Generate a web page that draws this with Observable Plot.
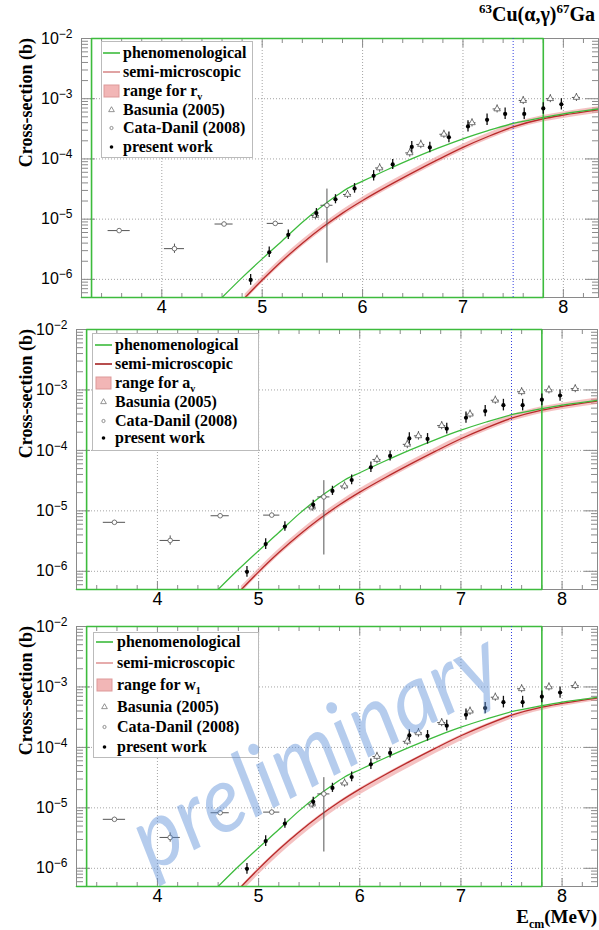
<!DOCTYPE html>
<html><head><meta charset="utf-8">
<script src="https://cdn.jsdelivr.net/npm/d3@7"></script>
<script src="https://cdn.jsdelivr.net/npm/@observablehq/plot@0.6"></script>
<style>
body{margin:0;background:#fff}
#wrap{position:relative;width:599px;height:930px;overflow:hidden;background:#fff}
.panel{position:absolute;left:0}
#title{position:absolute;right:4px;top:3px;font:bold 20px "Liberation Serif",serif;color:#000;white-space:nowrap}
#title sup{font-size:13px;vertical-align:0;position:relative;top:-8px}
#xlab{position:absolute;right:2px;top:907px;font:bold 19px/19px "Liberation Serif",serif;color:#000;white-space:nowrap}
#xlab sub{font-size:12px;vertical-align:0;position:relative;top:5px}
</style></head>
<body><div id="wrap">
<div id="title"><sup>63</sup>Cu(α,γ)<sup>67</sup>Ga</div>
<div id="xlab">E<sub>cm</sub>(MeV)</div>
</div>
<script>
// ---------- data ----------
const xTickValues = [4, 5, 6, 7, 8];
const xTickLabels = ["4", "5", "6", "7", "8"];
const yTickValues = [1e-6, 1e-5, 1e-4, 1e-3, 1e-2];
const yTickExp = ["−6", "−5", "−4", "−3", "−2"];

// phenomenological curve (green)
const phenE  = [4.6, 4.8, 5.0, 5.2, 5.4, 5.6, 5.75, 5.85, 6.0, 6.25, 6.5, 6.75, 7.0, 7.25, 7.5, 7.8, 8.0, 8.35];
const phenXS = [5.01e-7, 1.07e-6, 2.19e-6, 4.37e-6, 8.91e-6, 1.66e-5, 2.51e-5, 3.24e-5, 4.27e-5, 6.68e-5, 1.02e-4, 1.51e-4, 2.16e-4, 2.95e-4, 3.89e-4, 4.90e-4, 5.62e-4, 6.76e-4];
// envelope drawn by the same green graph outside the curve
const phenEnvE  = [3.2, 7.8, 7.8, 3.3, 3.3];
const phenEnvXS = [5.0e-7, 5.0e-7, 1.0e-2, 1.0e-2, 5.0e-7];

// semi-microscopic curve (red) and its band
const semiE  = [4.83, 5.0, 5.2, 5.4, 5.6, 5.8, 6.0, 6.25, 6.5, 6.75, 7.0, 7.25, 7.5, 7.8, 8.0, 8.35];
const semiXS = [5.01e-7, 9.77e-7, 2.04e-6, 3.98e-6, 7.31e-6, 1.26e-5, 2.04e-5, 3.53e-5, 5.92e-5, 9.72e-5, 1.557e-4, 2.358e-4, 3.41e-4, 4.65e-4, 5.34e-4, 6.53e-4];
const bandLoA = [4.4e-7, 8.6e-7, 1.80e-6, 3.50e-6, 6.43e-6, 1.11e-5, 1.80e-5, 3.11e-5, 5.21e-5, 8.55e-5, 1.37e-4, 2.08e-4, 3.00e-4, 4.09e-4, 4.70e-4, 5.75e-4];
const bandHiA = [5.66e-7, 1.10e-6, 2.31e-6, 4.50e-6, 8.26e-6, 1.42e-5, 2.31e-5, 3.99e-5, 6.69e-5, 1.10e-4, 1.76e-4, 2.66e-4, 3.85e-4, 5.25e-4, 6.03e-4, 7.38e-4];
const bandLoB = [4.0e-7, 7.8e-7, 1.63e-6, 3.18e-6, 5.85e-6, 1.01e-5, 1.63e-5, 2.82e-5, 4.74e-5, 7.9e-5, 1.28e-4, 1.98e-4, 2.93e-4, 4.09e-4, 4.75e-4, 5.94e-4];
const bandHiB = [5.16e-7, 1.01e-6, 2.10e-6, 4.10e-6, 7.53e-6, 1.30e-5, 2.10e-5, 3.64e-5, 6.10e-5, 1.00e-4, 1.60e-4, 2.43e-4, 3.51e-4, 4.79e-4, 5.50e-4, 6.73e-4];

// present work
const presentE  = [4.885, 5.07, 5.26, 5.54, 5.73, 5.92, 6.11, 6.30, 6.49, 6.67, 6.86, 7.05, 7.24, 7.42, 7.61, 7.80, 7.98];
const presentXS = [9.8e-7, 2.82e-6, 5.5e-6, 1.26e-5, 2.14e-5, 3.24e-5, 5.25e-5, 8.1e-5, 1.58e-4, 1.55e-4, 2.29e-4, 3.47e-4, 4.47e-4, 5.6e-4, 5.6e-4, 6.9e-4, 8.1e-4];
const presentLo = [8.0e-7, 2.3e-6, 4.6e-6, 1.06e-5, 1.80e-5, 2.70e-5, 4.30e-5, 6.7e-5, 1.28e-4, 1.27e-4, 1.86e-4, 2.80e-4, 3.60e-4, 4.50e-4, 4.50e-4, 5.5e-4, 6.5e-4];
const presentHi = [1.2e-6, 3.45e-6, 6.6e-6, 1.50e-5, 2.55e-5, 3.90e-5, 6.4e-5, 9.8e-5, 1.95e-4, 1.90e-4, 2.80e-4, 4.30e-4, 5.55e-4, 7.0e-4, 7.0e-4, 8.6e-4, 1.0e-3];

// Basunia (2005)
const basE  = [5.53, 5.85, 6.17, 6.47, 6.58, 6.81, 7.09, 7.34, 7.60, 7.87, 8.13];
const basXS = [1.15e-5, 2.57e-5, 7.08e-5, 1.26e-4, 1.74e-4, 2.57e-4, 3.98e-4, 6.76e-4, 9.33e-4, 1.0e-3, 1.05e-3];
const basLo = [9.8e-6, 2.2e-5, 6.0e-5, 1.07e-4, 1.48e-4, 2.2e-4, 3.4e-4, 5.8e-4, 8.0e-4, 8.6e-4, 9.0e-4];
const basHi = [1.35e-5, 3.0e-5, 8.3e-5, 1.48e-4, 2.05e-4, 3.0e-4, 4.65e-4, 7.9e-4, 1.09e-3, 1.17e-3, 1.22e-3];
const basDE = [0.04, 0.04, 0.04, 0.04, 0.04, 0.04, 0.04, 0.04, 0.04, 0.04, 0.04];

// Cata-Danil (2008)
const cataE  = [3.575, 4.126, 4.62, 5.13, 5.645];
const cataXS = [6.46e-6, 3.24e-6, 8.3e-6, 8.5e-6, 1.70e-5];
const cataLo = [6.0e-6, 2.7e-6, 7.7e-6, 7.9e-6, 1.86e-6];
const cataHi = [6.95e-6, 3.85e-6, 8.9e-6, 9.2e-6, 3.16e-5];
const cataDE = [0.11, 0.10, 0.09, 0.08, 0.06];

const thresholdE = [7.5];
const legendNames = ["phenomenological", "semi-microscopic", "range for ", "Basunia (2005)", "Cata-Danil (2008)", "present work"];
const rangeVars = [["r", "v"], ["a", "v"], ["w", "1"]];

// ---------- tables ----------
const phen = phenE.map((E, i) => ({E, xs: phenXS[i]}));
const phenEnv = phenEnvE.map((E, i) => ({E, xs: phenEnvXS[i]}));
const semi = semiE.map((E, i) => ({E, xs: semiXS[i]}));
const bandA = semiE.map((E, i) => ({E, lo: bandLoA[i], hi: bandHiA[i]}));
const bandB = semiE.map((E, i) => ({E, lo: bandLoB[i], hi: bandHiB[i]}));
const present = presentE.map((E, i) => ({E, xs: presentXS[i], lo: presentLo[i], hi: presentHi[i]}));
const bas = basE.map((E, i) => ({E, xs: basXS[i], lo: basLo[i], hi: basHi[i], e1: E - basDE[i], e2: E + basDE[i]}));
const cata = cataE.map((E, i) => ({E, xs: cataXS[i], lo: cataLo[i], hi: cataHi[i], e1: E - cataDE[i], e2: E + cataDE[i]}));

// ---------- layout ----------
const GREEN = "#3dbb3d", RED = "#b82a2a", PINK = "#ee9a9a", GRID = "#9a9a9a", FRAME = "#8a8a8a";
const panels = [
  {top: 0, height: 318, mt: 38, mb: 21, ml: 81, mr: 1, band: bandA, semiLegend: "#d98c8c",
   legend: {x0: 101, y0: 41, x1: 252, y1: 157, rows: [53, 72, 91, 110, 128, 147], sx0: 103, sx1: 120, tx: 123}},
  {top: 318, height: 294, mt: 11, mb: 23, ml: 76, mr: 2, band: bandA, semiLegend: "#a52222",
   legend: {x0: 92, y0: 333, x1: 258, y1: 450, rows: [345, 364, 383, 402, 421, 438], sx0: 95, sx1: 112, tx: 115}},
  {top: 612, height: 318, mt: 14, mb: 44, ml: 76, mr: 2, band: bandB, semiLegend: "#e09898", watermark: true,
   legend: {x0: 93, y0: 632, x1: 258, y1: 757, rows: [642, 663, 685, 707, 727, 747], sx0: 96, sx1: 113, tx: 117}}
];

const xMinor = d3.range(17, 42).map(k => k / 5).filter(v => v > 3.2 && v < 8.35 && Math.abs(v - Math.round(v)) > 1e-6);
const yMinor = [];
for (let e = -7; e <= -3; e++) for (let m = 2; m <= 9; m++) { const v = m * Math.pow(10, e); if (v > 5e-7 && v < 1e-2) yMinor.push(v); }

const wrap = document.getElementById("wrap");
const SERIF = "'Liberation Serif', 'Times New Roman', serif";

panels.forEach((p, pi) => {
  const tickStyle = {stroke: FRAME, tickFormat: () => "", label: null};
  const svg = Plot.plot({
    width: 599, height: p.height,
    marginTop: p.mt, marginBottom: p.mb, marginLeft: p.ml, marginRight: p.mr,
    style: {background: "transparent", overflow: "visible", fontFamily: "'Liberation Sans', Arial, sans-serif"},
    x: {domain: [3.2, 8.35], label: null},
    y: {type: "log", domain: [5e-7, 1e-2], label: null},
    marks: [
      Plot.gridX(xTickValues, {stroke: GRID, strokeOpacity: 0.9, strokeDasharray: "1,2"}),
      Plot.gridY(yTickValues.slice(0, 4), {stroke: GRID, strokeOpacity: 0.9, strokeDasharray: "1,2"}),
      Plot.frame({stroke: FRAME}),
      // inner ticks
      Plot.axisX(xTickValues, {...tickStyle, anchor: "bottom", tickSize: -8}),
      Plot.axisX(xMinor, {...tickStyle, anchor: "bottom", tickSize: -4}),
      Plot.axisX(xTickValues, {...tickStyle, anchor: "top", tickSize: -8}),
      Plot.axisX(xMinor, {...tickStyle, anchor: "top", tickSize: -4}),
      Plot.axisY(yTickValues, {...tickStyle, anchor: "left", tickSize: -14}),
      Plot.axisY(yMinor, {...tickStyle, anchor: "left", tickSize: -7}),
      Plot.axisY(yTickValues, {...tickStyle, anchor: "right", tickSize: -14}),
      Plot.axisY(yMinor, {...tickStyle, anchor: "right", tickSize: -7}),
      // labels
      Plot.axisX(xTickValues, {anchor: "bottom", tickSize: 0, tickPadding: 3, fontSize: 18, label: null,
        tickFormat: d => xTickLabels[xTickValues.indexOf(d)]}),
      Plot.axisY(yTickValues, {anchor: "left", tickSize: 0, tickPadding: 9, fontSize: 16, label: null,
        tickFormat: d => yTickExp[yTickValues.indexOf(d)]}),
      // curves
      Plot.areaY(p.band, {x: "E", y1: "lo", y2: "hi", fill: PINK, fillOpacity: 0.6, curve: "monotone-x", clip: true}),
      Plot.line(semi, {x: "E", y: "xs", stroke: RED, strokeWidth: 1.3, curve: "monotone-x", clip: true}),
      Plot.line(phen, {x: "E", y: "xs", stroke: GREEN, strokeWidth: 1.3, curve: "monotone-x", clip: true}),
      Plot.line(phenEnv, {x: "E", y: "xs", stroke: GREEN, strokeWidth: 1.6}),
      Plot.ruleX(thresholdE, {stroke: "#3340e0", strokeWidth: 1, strokeDasharray: "1,2"}),
      // data: Cata-Danil
      Plot.ruleY(cata, {y: "xs", x1: "e1", x2: "e2", stroke: "#555", strokeWidth: 1}),
      Plot.ruleX(cata, {x: "E", y1: "lo", y2: "hi", stroke: "#555", strokeWidth: 1}),
      Plot.dot(cata, {x: "E", y: "xs", r: 2.3, stroke: "#555", fill: "white", strokeWidth: 0.8}),
      // Basunia
      Plot.ruleY(bas, {y: "xs", x1: "e1", x2: "e2", stroke: "#555", strokeWidth: 1}),
      Plot.ruleX(bas, {x: "E", y1: "lo", y2: "hi", stroke: "#555", strokeWidth: 1}),
      Plot.dot(bas, {x: "E", y: "xs", r: 2.4, symbol: "triangle", stroke: "#555", fill: "white", strokeWidth: 0.8}),
      // present work
      Plot.ruleX(present, {x: "E", y1: "lo", y2: "hi", stroke: "#111", strokeWidth: 1.3}),
      Plot.dot(present, {x: "E", y: "xs", r: 2.1, fill: "#000"})
    ]
  });
  svg.classList.add("panel");
  svg.style.top = p.top + "px";
  wrap.appendChild(svg);
  const s = d3.select(svg);

  // superscript exponents on y tick labels
  s.selectAll('g[aria-label="y-axis tick label"] text').each(function() {
    const t = d3.select(this);
    const exp = t.text();
    if (!exp) return;
    t.text(null);
    t.append("tspan").text("10");
    t.append("tspan").attr("dy", "-0.5em").attr("font-size", 12).text(exp);
  });

  // y axis title
  s.append("text")
    .attr("transform", `translate(32,${p.mt}) rotate(-90)`)
    .attr("text-anchor", "end")
    .attr("font-family", SERIF)
    .attr("font-weight", "bold").attr("font-size", 18)
    .text("Cross-section (b)");

  // legend
  const L = p.legend, off = p.top;
  const g = s.append("g").attr("text-anchor", "start");
  g.append("rect").attr("x", L.x0 + 0.5).attr("y", L.y0 - off + 0.5)
    .attr("width", L.x1 - L.x0).attr("height", L.y1 - L.y0)
    .attr("fill", "white").attr("stroke", "#bbb");
  const ry = L.rows.map(r => r - off);
  const mx = (L.sx0 + L.sx1) / 2;
  g.append("line").attr("x1", L.sx0).attr("x2", L.sx1).attr("y1", ry[0]).attr("y2", ry[0]).attr("stroke", GREEN).attr("stroke-width", 1.6);
  g.append("line").attr("x1", L.sx0).attr("x2", L.sx1).attr("y1", ry[1]).attr("y2", ry[1]).attr("stroke", p.semiLegend).attr("stroke-width", 1.6);
  g.append("rect").attr("x", L.sx0 + 1).attr("y", ry[2] - 6).attr("width", L.sx1 - L.sx0 - 2).attr("height", 12)
    .attr("fill", "#f2b6b6").attr("stroke", "#d99");
  g.append("path").attr("d", d3.symbol(d3.symbolTriangle, 14)()).attr("transform", `translate(${mx},${ry[3]})`)
    .attr("fill", "white").attr("stroke", "#666").attr("stroke-width", 0.7);
  g.append("circle").attr("cx", mx).attr("cy", ry[4]).attr("r", 1.6).attr("fill", "white").attr("stroke", "#666").attr("stroke-width", 0.7);
  g.append("circle").attr("cx", mx).attr("cy", ry[5]).attr("r", 1.8).attr("fill", "#000");
  legendNames.forEach((name, i) => {
    const t = g.append("text").attr("x", L.tx).attr("y", ry[i] + 5)
      .attr("text-anchor", "start")
      .attr("font-family", SERIF)
      .attr("font-weight", "bold").attr("font-size", 16).attr("fill", "#000");
    t.append("tspan").text(name);
    if (i === 2) {
      t.append("tspan").text(rangeVars[pi][0]);
      t.append("tspan").attr("dy", 4).attr("font-size", 10).text(rangeVars[pi][1]);
    }
  });

  if (p.watermark) {
    s.append("text")
      .attr("transform", `translate(330,${778 - off}) rotate(-28)`)
      .attr("text-anchor", "middle")
      .attr("font-family", "Lato, 'DejaVu Sans', sans-serif")
      .attr("font-style", "italic").attr("font-weight", 400)
      .attr("font-size", 92)
      .attr("textLength", 405).attr("lengthAdjust", "spacingAndGlyphs")
      .attr("fill", "#5b8fd6").attr("fill-opacity", 0.45)
      .text("preliminary");
  }
});
</script>
</body></html>
